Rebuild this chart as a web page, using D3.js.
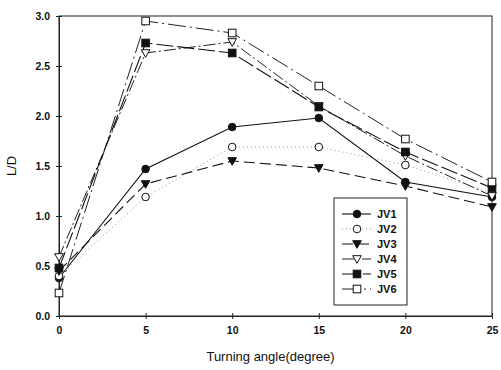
<!DOCTYPE html>
<html><head><meta charset="utf-8">
<script src="https://cdn.jsdelivr.net/npm/d3@7"></script>
<style>
body{margin:0;background:#fff;}
text{font-family:"Liberation Sans",Arial,sans-serif;}
</style></head>
<body><svg id="c" width="501" height="370"></svg>
<script>
const angles = [0, 5, 10, 15, 20, 25];
const seriesNames = ["JV1","JV2","JV3","JV4","JV5","JV6"];
const jv1 = [0.38, 1.47, 1.89, 1.98, 1.34, 1.19];
const jv2 = [0.40, 1.19, 1.69, 1.69, 1.51, 1.23];
const jv3 = [0.45, 1.32, 1.55, 1.48, 1.30, 1.09];
const jv4 = [0.59, 2.63, 2.74, 2.10, 1.60, 1.20];
const jv5 = [0.48, 2.73, 2.63, 2.09, 1.64, 1.28];
const jv6 = [0.23, 2.95, 2.83, 2.30, 1.77, 1.34];
const xTicks = [0, 5, 10, 15, 20, 25];
const yTicks = [0.0, 0.5, 1.0, 1.5, 2.0, 2.5, 3.0];

const values = [jv1, jv2, jv3, jv4, jv5, jv6];
const styles = [
  {sym:"circle", fill:true, dash:null, color:"#111", w:1.1},
  {sym:"circle", fill:false, dash:"1,3", color:"#999", w:1},
  {sym:"tri", fill:true, dash:"11,5", color:"#111", w:1.1},
  {sym:"tri", fill:false, dash:"12,3,2,3", color:"#222", w:1},
  {sym:"square", fill:true, dash:"17,4", color:"#111", w:1.1},
  {sym:"square", fill:false, dash:"18,4,2,4", color:"#222", w:1}
];

const svg = d3.select("#c");
const L = 59, R = 492, T = 16, B = 316;
const x = d3.scaleLinear().domain([0,25]).range([L,R]);
const y = d3.scaleLinear().domain([0,3]).range([B,T]);

svg.append("rect").attr("x",L).attr("y",T).attr("width",R-L).attr("height",B-T)
  .attr("fill","none").attr("stroke","#222").attr("stroke-width",1);

const xa = svg.append("g").attr("transform",`translate(0,${B})`)
  .call(d3.axisBottom(x).tickValues(xTicks).tickFormat(d3.format("d")).tickSize(3).tickPadding(8));
xa.selectAll(".tick line").attr("y1",-3).attr("y2",3);
const ya = svg.append("g").attr("transform",`translate(${L},0)`)
  .call(d3.axisLeft(y).tickValues(yTicks).tickFormat(d3.format(".1f")).tickSize(3).tickPadding(6));
ya.selectAll(".tick line").attr("x1",3).attr("x2",-3);
[xa,ya].forEach(a=>{
  a.select(".domain").attr("stroke","#222");
  a.selectAll(".tick line").attr("stroke","#222");
  a.selectAll("text").attr("font-size",10.5).attr("fill","#111").attr("font-weight","bold");
});

svg.append("text").attr("x",(L+R)/2-5).attr("y",361).attr("text-anchor","middle")
  .attr("font-size",13).attr("fill","#111").text("Turning angle(degree)");
svg.append("text").attr("transform",`translate(16,${(T+B)/2}) rotate(-90)`)
  .attr("text-anchor","middle").attr("font-size",13).attr("fill","#111").text("L/D");

function drawSym(g, st, cx, cy){
  const fill = st.fill ? "#111" : "#fff";
  if(st.sym==="circle"){
    g.append("circle").attr("cx",cx).attr("cy",cy).attr("r",3.8)
      .attr("fill",fill).attr("stroke","#111").attr("stroke-width",1);
  } else if(st.sym==="square"){
    g.append("rect").attr("x",cx-3.8).attr("y",cy-3.8).attr("width",7.6).attr("height",7.6)
      .attr("fill",fill).attr("stroke","#111").attr("stroke-width",1);
  } else {
    g.append("path").attr("d",`M${cx-4.3},${cy-3.3}L${cx+4.3},${cy-3.3}L${cx},${cy+4.3}Z`)
      .attr("fill",fill).attr("stroke","#111").attr("stroke-width",1);
  }
}

const line = d3.line().x((d,i)=>x(angles[i])).y(d=>y(d));
values.forEach((vals,k)=>{
  const st = styles[k];
  svg.append("path").datum(vals).attr("d",line).attr("fill","none")
    .attr("stroke",st.color).attr("stroke-width",st.w)
    .attr("stroke-dasharray",st.dash);
});
values.forEach((vals,k)=>{
  const g = svg.append("g");
  vals.forEach((v,i)=>drawSym(g, styles[k], x(angles[i]), y(v)));
});

const lg = svg.append("g");
lg.append("rect").attr("x",334).attr("y",198).attr("width",73).attr("height",107)
  .attr("fill","#fff").attr("stroke","#222").attr("stroke-width",1);
seriesNames.forEach((n,k)=>{
  const st = styles[k];
  const cy = 214 + k*15;
  lg.append("line").attr("x1",342).attr("x2",371).attr("y1",cy).attr("y2",cy)
    .attr("stroke",st.color).attr("stroke-width",st.w).attr("stroke-dasharray",st.dash);
  drawSym(lg, st, 357, cy);
  lg.append("text").attr("x",377).attr("y",cy+4).attr("font-size",11)
    .attr("font-weight","bold").attr("fill","#111").text(n);
});
</script></body></html>
